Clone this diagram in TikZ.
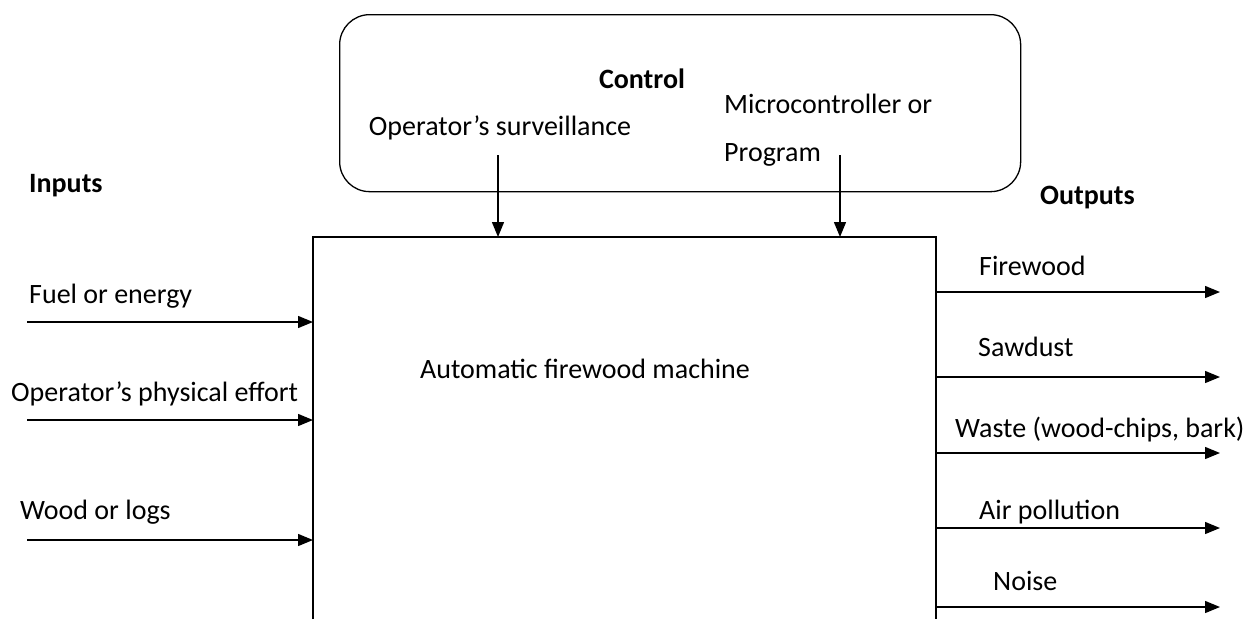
\documentclass[tikz,border=0pt]{standalone}
\usepackage{fontspec}
\setmainfont{Carlito}
\usetikzlibrary{arrows.meta}
\begin{document}
\begin{tikzpicture}[x=1pt,y=-1pt,
  txt/.style={inner sep=0pt,yshift=-2.5pt,font=\fontsize{28}{32}\selectfont},
  lbl/.style={txt,anchor=west},
  hd/.style={txt,anchor=west,font=\fontsize{28}{32}\selectfont\bfseries},
  arr/.style={-{Triangle[length=15pt,width=12pt]},line width=1.4pt}]
\useasboundingbox (0,0) rectangle (1256,619);
% control box
\node[draw,line width=1.3pt,rounded corners=30pt,minimum width=681pt,minimum height=177pt,anchor=north west,inner sep=0pt] (ctrl) at (339,14) {};
\node[txt] (ctrlt) at (642,76) {\bfseries Control};
\node[txt] (surv) at (500,125) {Operator’s surveillance};
\node[lbl] (micro) at (724,101) {Microcontroller or};
\node[lbl] (prog) at (724,152) {Program};
% main box (open at bottom)
\coordinate (bl) at (313,619);
\coordinate (tl) at (313,237);
\coordinate (tr) at (936,237);
\coordinate (br) at (936,619);
\draw[line width=1.4pt] (bl) -- (tl) -- (tr) -- (br);
\node[txt] (mach) at (585,366) {Automatic firewood machine};
% control arrows
\coordinate (s1) at (498,155);
\coordinate (s2) at (840,155);
\coordinate (e1) at (498,237);
\coordinate (e2) at (840,237);
\draw[arr] (s1) -- (e1);
\draw[arr] (s2) -- (e2);
% inputs
\node[hd] (inputs) at (29,183) {Inputs};
\node[lbl] (in1) at (29,294) {Fuel or energy};
\node[lbl] (in2) at (11,391) {Operator’s physical effort};
\node[lbl] (in3) at (20,510) {Wood or logs};
\foreach \y/\n in {322/a,420/b,540/c}{
  \coordinate (i\n) at (27,\y);
  \coordinate (j\n) at (313,\y);
  \draw[arr] (i\n) -- (j\n);
}
% outputs
\node[hd] (outputs) at (1040,195) {Outputs};
\node[lbl] (o1) at (979,263) {Firewood};
\node[lbl] (o2) at (978,344) {Sawdust};
\node[lbl] (o3) at (955,427) {Waste (wood-chips, bark)};
\node[lbl] (o4) at (979,510) {Air pollution};
\node[lbl] (o5) at (993,578) {Noise};
\foreach \y/\n in {292/a,377/b,453/c,528/d,607/e}{
  \coordinate (p\n) at (936,\y);
  \coordinate (q\n) at (1220,\y);
  \draw[arr] (p\n) -- (q\n);
}
\end{tikzpicture}
\end{document}
